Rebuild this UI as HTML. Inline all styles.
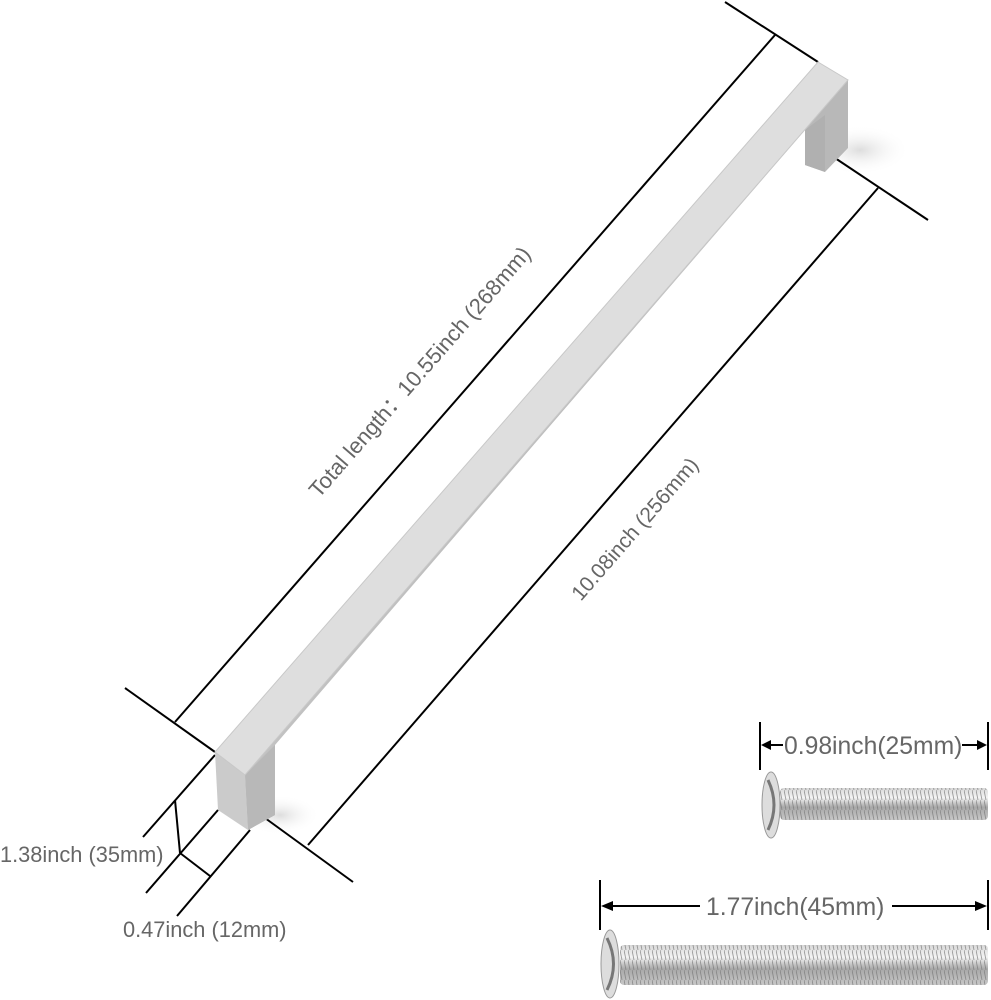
<!DOCTYPE html>
<html><head><meta charset="utf-8"><style>
html,body{margin:0;padding:0;background:#fff;width:991px;height:1000px;overflow:hidden}
svg{display:block}
text{font-family:"Liberation Sans","Noto Sans CJK SC",sans-serif;fill:#666}
</style></head><body>
<svg width="991" height="1000" viewBox="0 0 991 1000" xmlns="http://www.w3.org/2000/svg">
<defs>
<linearGradient id="top" x1="0" y1="0" x2="1" y2="1"><stop offset="0" stop-color="#e6e6e6"/><stop offset="1" stop-color="#d6d6d6"/></linearGradient>
<linearGradient id="side" x1="0" y1="0" x2="1" y2="0"><stop offset="0" stop-color="#c2c2c2"/><stop offset="1" stop-color="#b8b8b8"/></linearGradient>
<linearGradient id="thr" x1="0" y1="0" x2="0" y2="1"><stop offset="0" stop-color="#d8d8d8"/><stop offset=".3" stop-color="#f4f4f4"/><stop offset=".6" stop-color="#a8a8a8"/><stop offset="1" stop-color="#c8c8c8"/></linearGradient>
<pattern id="th" width="4" height="10" patternUnits="userSpaceOnUse"><line x1="0" y1="0" x2="2" y2="10" stroke="#777" stroke-width="0.9"/></pattern>
<radialGradient id="sh"><stop offset="0" stop-color="#ddd"/><stop offset="1" stop-color="#fff" stop-opacity="0"/></radialGradient>
</defs>
<ellipse cx="860" cy="150" rx="50" ry="25" fill="url(#sh)"/>
<ellipse cx="280" cy="815" rx="40" ry="20" fill="url(#sh)"/>
<g stroke="#000" stroke-width="2" fill="none">
<line x1="725" y1="2" x2="818" y2="62"/>
<line x1="775" y1="35" x2="175" y2="722"/>
<line x1="125" y1="688" x2="215" y2="752"/>
<line x1="835" y1="158" x2="928" y2="220"/>
<line x1="878" y1="188" x2="308" y2="845"/>
<line x1="265" y1="818" x2="353" y2="882"/>
<line x1="143" y1="837" x2="215" y2="755"/>
<line x1="146" y1="893" x2="218" y2="810"/>
<line x1="177" y1="916" x2="250" y2="830"/>
<line x1="175" y1="800" x2="180" y2="853"/>
<line x1="180" y1="853" x2="210" y2="876"/>
</g>
<polygon points="245,775 848,80 848,148 825,172 805,165 805,130 275,745 275,815 248,830" fill="url(#side)"/>
<polygon points="805,130 825,115 825,172 805,165" fill="#b0b0b0"/>
<polygon points="215,752 245,775 248,830 218,810" fill="#cbcbcb"/>
<polygon points="245,775 275,745 275,815 248,830" fill="#b8b8b8"/>
<polygon points="818,62 848,80 245,775 215,752" fill="url(#top)" stroke="#c8c8c8" stroke-width="1"/>
<text x="0" y="0" font-size="22" text-anchor="middle" dominant-baseline="middle" transform="translate(421,373) rotate(-48.9)">Total length：10.55inch (268mm)</text>
<text x="0" y="0" font-size="21" text-anchor="middle" dominant-baseline="middle" transform="translate(636,530) rotate(-49)">10.08inch (256mm)</text>
<text x="0" y="862" font-size="21.8">1.38inch (35mm)</text>
<text x="123" y="937" font-size="21.8">0.47inch (12mm)</text>
<g stroke="#000" stroke-width="2">
<line x1="760" y1="722" x2="760" y2="770"/><line x1="988" y1="722" x2="988" y2="770"/>
<line x1="768" y1="745" x2="783" y2="745"/><line x1="962" y1="745" x2="980" y2="745"/>
<line x1="600" y1="880" x2="600" y2="930"/><line x1="988" y1="880" x2="988" y2="930"/>
<line x1="608" y1="906" x2="700" y2="906"/><line x1="892" y1="906" x2="980" y2="906"/>
</g>
<polygon points="761,745 771,740 771,750" fill="#000"/><polygon points="987,745 977,740 977,750" fill="#000"/>
<polygon points="601,906 613,901 613,911" fill="#000"/><polygon points="987,906 975,901 975,911" fill="#000"/>
<text x="784" y="754" font-size="24.7">0.98inch(25mm)</text>
<text x="706" y="915" font-size="24.7">1.77inch(45mm)</text>
<rect x="780" y="788" width="208" height="32" rx="4" fill="url(#thr)"/>
<rect x="780" y="788" width="208" height="32" rx="4" fill="url(#th)" opacity=".7"/>
<ellipse cx="771" cy="805" rx="9" ry="33" fill="#ddd" stroke="#999"/>
<path d="M768,780 Q780,805 768,830" stroke="#777" stroke-width="3" fill="none"/>
<rect x="620" y="945" width="368" height="40" rx="4" fill="url(#thr)"/>
<rect x="620" y="945" width="368" height="40" rx="4" fill="url(#th)" opacity=".7"/>
<ellipse cx="610" cy="964" rx="9" ry="34" fill="#ddd" stroke="#999"/>
<path d="M607,938 Q620,964 607,990" stroke="#777" stroke-width="3" fill="none"/>
</svg>
</body></html>
